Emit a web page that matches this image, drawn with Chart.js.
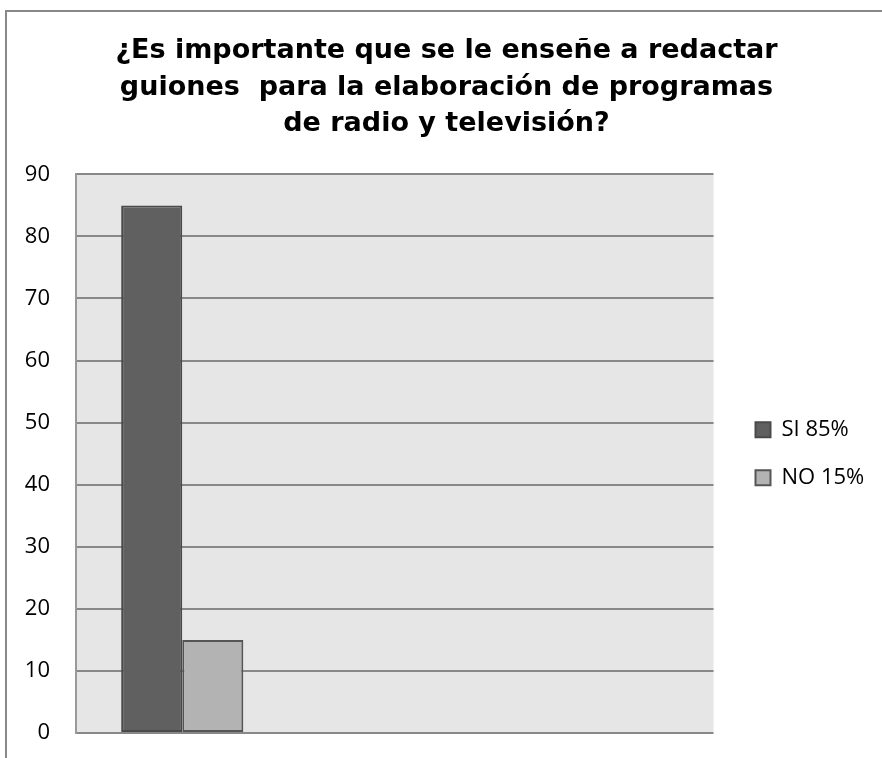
<!DOCTYPE html>
<html>
<head>
<meta charset="utf-8">
<script src="https://cdn.jsdelivr.net/npm/chart.js@4.4.0/dist/chart.umd.min.js"></script>
<style>
body { margin: 0; background: #fff; }
#wrap { position: relative; width: 882px; height: 758px; }
#wrap canvas { display: block; }
#frame { position: absolute; left: 5px; top: 10px; right: 0; bottom: 0; border-left: 2px solid #888; border-top: 2px solid #888; pointer-events: none; }
</style>
</head>
<body>
<div id="wrap">
<canvas id="chartCanvas" width="882" height="758"></canvas>
<div id="frame"></div>
</div>
<script>
const titleLines = ["¿Es importante que se le enseñe a redactar", "guiones  para la elaboración de programas", "de radio y televisión?"];
const categories = ["", "", ""];
const siValues = [85, null, null];
const noValues = [15, null, null];
const seriesLabels = ["SI 85%", "NO 15%"];
const yTicks = { min: 0, max: 90, step: 10 };

// grey plot background behind the bars
const plotBackground = {
    id: "plotBackground",
    beforeDraw(chart) {
        const a = chart.chartArea;
        const ctx = chart.ctx;
        ctx.save();
        ctx.fillStyle = "#e6e6e6";
        ctx.fillRect(a.left, a.top, a.right - a.left, a.bottom - a.top);
        ctx.restore();
    }
};

const ctx = document.getElementById("chartCanvas").getContext("2d");
const chart = new Chart(ctx, {
    type: "bar",
    data: {
        labels: categories,
        datasets: [{
            label: seriesLabels[0],
            data: siValues,
            backgroundColor: "#606060",
            borderColor: "#4a4a4a",
            borderWidth: 2,
            borderSkipped: false
        }, {
            label: seriesLabels[1],
            data: noValues,
            backgroundColor: "#b3b3b3",
            borderColor: "#555555",
            borderWidth: 2,
            borderSkipped: false
        }]
    },
    options: {
        responsive: false,
        animation: false,
        categoryPercentage: 0.575,
        barPercentage: 1,
        layout: { padding: { left: 22, right: 11, top: 0, bottom: 25 } },
        plugins: {
            title: {
                display: true,
                text: titleLines,
                color: "#000",
                font: { family: "'DejaVu Sans', sans-serif", size: 27, weight: "bold", lineHeight: 1.35 },
                padding: { top: 33, bottom: 32 }
            },
            legend: {
                position: "right",
                fullSize: false,
                labels: {
                    color: "#000",
                    font: { family: "'Open Sans', sans-serif", size: 22 },
                    boxWidth: 15,
                    boxHeight: 15,
                    padding: 26
                }
            },
            tooltip: { enabled: false }
        },
        scales: {
            x: { display: false },
            y: {
                min: yTicks.min,
                max: yTicks.max,
                afterFit(scale) { scale.width = 54; },
                ticks: {
                    stepSize: yTicks.step,
                    padding: 3,
                    color: "#000",
                    font: { family: "'Open Sans', sans-serif", size: 22 }
                },
                // invisible tick marks keep the labels clear of the axis
                grid: { color: "#888", lineWidth: 2, drawTicks: true, tickLength: 23, tickColor: "rgba(0,0,0,0)" },
                border: { color: "#999", width: 2 }
            },
            // empty strip between the plot and the legend
            gap: {
                type: "linear",
                position: "right",
                display: true,
                afterFit(scale) { scale.width = 16; },
                ticks: { display: false },
                grid: { display: false },
                border: { display: false }
            }
        }
    },
    plugins: [plotBackground]
});
</script>
</body>
</html>
